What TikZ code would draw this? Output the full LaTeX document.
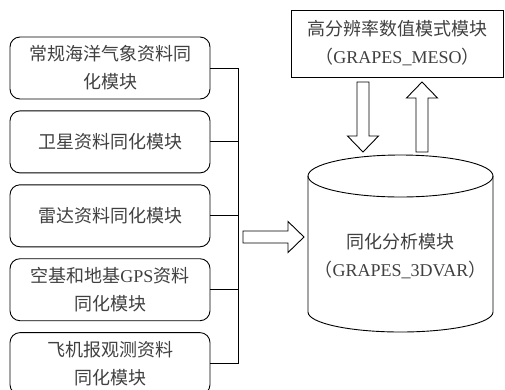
\documentclass[tikz,border=0pt]{standalone}
\usepackage{fontspec}
\setmainfont{Liberation Serif}
\newfontfamily\cjk{Noto Sans CJK SC}
\usetikzlibrary{calc, positioning}

\tikzset{
  labelfont/.style={font=\cjk\fontsize{18}{28}\selectfont, text=black!75},
  srcbox/.style={draw, rounded corners=10pt, minimum width=200pt,
    minimum height=62pt, align=center, labelfont},
  hollow/.style={draw, fill=white, line join=miter},
  pics/fatarrow/.style={code={
    \draw[hollow] (0,-6) -- (#1-16,-6) -- (#1-16,-15.5) -- (#1,0)
      -- (#1-16,15.5) -- (#1-16,6) -- (0,6) -- cycle;
  }},
}

\begin{document}
\begin{tikzpicture}[x=1pt, y=-1pt, line width=0.9pt]
\useasboundingbox (0,0) rectangle (505,389);

% assimilation inputs
\node[srcbox] (conv) at (110,68) {常规海洋气象资料同\\化模块};
\node[srcbox, below=11pt of conv] (sat) {卫星资料同化模块};
\node[srcbox, below=11pt of sat] (radar) {雷达资料同化模块};
\node[srcbox, below=11pt of radar] (gps) {空基和地基{\rmfamily GPS}资料\\同化模块};
\node[srcbox, below=11pt of gps] (air) {飞机报观测资料\\同化模块};

\coordinate (bus) at (238,0);
\foreach \src in {conv, sat, radar, gps, air}
  \draw (\src.east) -- (\src.east -| bus);
\draw (conv.east -| bus) -- (air.east -| bus);

% model box
\node[draw, minimum width=212pt, minimum height=67pt, align=center, labelfont]
  (meso) at (397.5,43.5) {高分辨率数值模式模块\\（{\rmfamily GRAPES\_MESO}）};

% assimilation cylinder
\def\rx{92.5}
\draw (308,176) -- (308,312) arc[start angle=180, end angle=0,
  x radius=\rx, y radius=20] -- (493,176);
\draw (400.5,176) ellipse[x radius=\rx, y radius=21];
\node[align=center, labelfont] (var) at (400.5,256)
  {同化分析模块\\（{\rmfamily GRAPES\_3DVAR}）};

% hollow arrows
\coordinate (feed) at (243,237);
\coordinate (down) at (363,82);
\coordinate (up) at (422,152);
\pic at (feed) {fatarrow=61};
\pic[rotate=-90] at (down) {fatarrow=70};
\pic[rotate=90] at (up) {fatarrow=70};
\end{tikzpicture}
\end{document}
